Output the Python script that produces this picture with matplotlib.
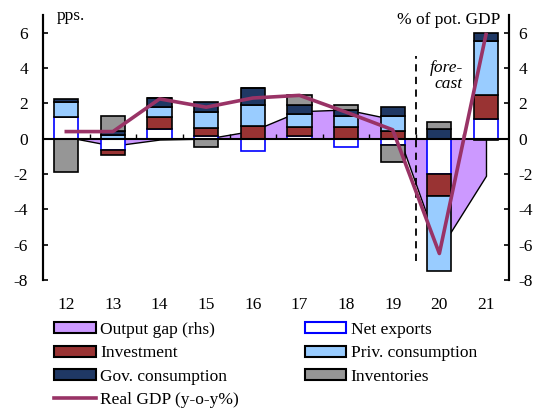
import numpy as np
import matplotlib
matplotlib.use('Agg')
from matplotlib import pyplot as plt
from matplotlib.patches import Patch
from matplotlib.lines import Line2D

plt.rcParams['font.family'] = 'Liberation Serif'
plt.rcParams['font.size'] = 12.5
plt.rcParams['axes.unicode_minus'] = False

years = ['12', '13', '14', '15', '16', '17', '18', '19', '20', '21']

# contributions to growth, pps.
net_exports = [1.2, -0.65, 0.55, 0.17, -0.68, 0.17, -0.45, -0.35, -2.0, 1.13]
investment = [0.0, -0.25, 0.65, 0.43, 0.7, 0.48, 0.65, 0.42, -1.23, 1.33]
priv_cons = [0.87, 0.2, 0.57, 0.9, 1.19, 0.76, 0.62, 0.86, -4.27, 3.04]
gov_cons = [0.2, 0.26, 0.51, 0.57, 0.95, 0.48, 0.33, 0.52, 0.55, 0.48]
inventories = [-1.9, 0.8, 0.0, -0.5, 0.0, 0.57, 0.33, -0.95, 0.38, -0.05]

real_gdp = [0.4, 0.4, 2.25, 1.78, 2.3, 2.45, 1.5, 0.5, -6.5, 5.9]
output_gap = [0.1, -0.4, -0.05, 0.0, 0.45, 1.55, 1.65, 1.1, -6.3, -2.1]

x = np.arange(len(years))

fig = plt.figure(figsize=(5.45, 4.09), dpi=100)
ax = fig.add_axes([0.0789, 0.3154, 0.8556, 0.648])
ax2 = ax.twinx()
ax.set_zorder(ax2.get_zorder() + 1)
ax.patch.set_visible(False)

# output gap as area on the right axis, behind the bars
ax2.fill_between(x, output_gap, 0, facecolor='#CC99FF', edgecolor='black', lw=1)

series = [
    ('Net exports', net_exports, 'white', 'blue'),
    ('Investment', investment, '#993333', 'black'),
    ('Priv. consumption', priv_cons, '#99CCFF', 'black'),
    ('Gov. consumption', gov_cons, '#1F3864', 'black'),
    ('Inventories', inventories, '#969696', 'black'),
]

pos = np.zeros(len(x))
neg = np.zeros(len(x))
for name, vals, fc, ec in series:
    vals = np.array(vals)
    bottom = np.where(vals >= 0, pos, neg)
    ax.bar(x, vals, 0.52, bottom=bottom, color=fc, edgecolor=ec, lw=1.2, zorder=2)
    pos = pos + np.where(vals >= 0, vals, 0)
    neg = neg + np.where(vals < 0, vals, 0)

ax.axhline(0, color='black', lw=1.5, zorder=3)
ax.vlines(np.arange(0.5, len(x) - 1), 0, 0.25, colors='black', lw=1, zorder=3)
ax.plot(x, real_gdp, color='#993366', lw=2.6, zorder=5)

# forecast separator
ax.vlines(7.5, -6.9, 4.7, colors='black', lw=1.3, linestyles=(0, (4, 3)), zorder=4)
ax.text(8.5, 3.55, 'fore-\ncast', style='italic', ha='right', va='center',
        multialignment='right', linespacing=1.05)

for a in (ax, ax2):
    a.set_ylim(-8, 7)
    a.set_yticks(range(-8, 7, 2))
    a.set_xlim(-0.5, len(x) - 0.5)
    a.spines['top'].set_visible(False)
    a.spines['bottom'].set_visible(False)
    a.spines['left'].set_linewidth(1.5)
    a.spines['right'].set_linewidth(1.5)

ax.set_xticks(x, labels=years)
ax.tick_params(axis='x', length=0, pad=12)
ax.tick_params(axis='y', direction='in', length=3.8, width=1.2, pad=10.8)
ax2.tick_params(axis='y', direction='in', length=3.8, width=1.2, pad=6.5)

ax.text(0.03, 0.981, 'pps.', transform=ax.transAxes, ha='left', va='baseline')
ax.text(0.98, 0.965, '% of pot. GDP', transform=ax.transAxes, ha='right', va='baseline')

handles = [
    Patch(facecolor='#CC99FF', edgecolor='black', lw=1.5),
    Patch(facecolor='#993333', edgecolor='black', lw=1.5),
    Patch(facecolor='#1F3864', edgecolor='black', lw=1.5),
    Line2D([], [], color='#993366', lw=2.6),
    Patch(facecolor='white', edgecolor='blue', lw=1.5),
    Patch(facecolor='#99CCFF', edgecolor='black', lw=1.5),
    Patch(facecolor='#969696', edgecolor='black', lw=1.5),
]
labels = ['Output gap (rhs)', 'Investment', 'Gov. consumption', 'Real GDP (y-o-y%)',
          'Net exports', 'Priv. consumption', 'Inventories']
fig.legend(handles, labels, ncol=2, loc='upper left', bbox_to_anchor=(0.099, 0.213),
           frameon=False, borderpad=0, borderaxespad=0, handlelength=2.4,
           handleheight=0.6, handletextpad=0.25, labelspacing=0.43, columnspacing=3.8)

fig.savefig('out.png', dpi=100)
